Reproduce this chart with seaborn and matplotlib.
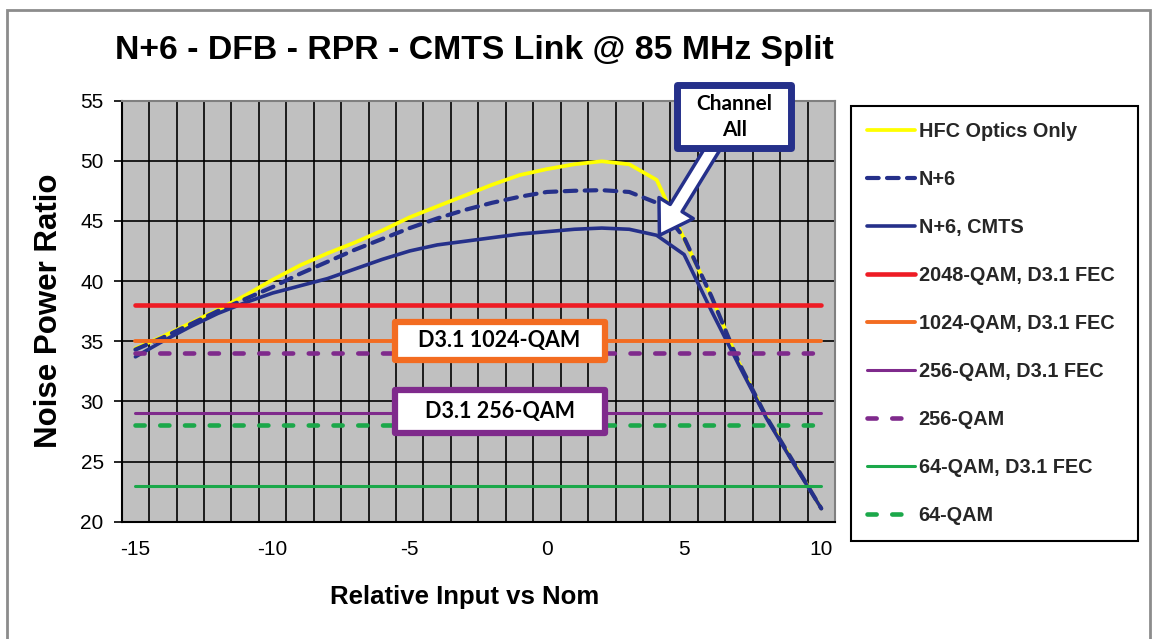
import numpy as np
import pandas as pd
import matplotlib
matplotlib.use("Agg")
import matplotlib.pyplot as plt
from matplotlib.patches import Rectangle, FancyArrowPatch
import seaborn as sns

# Relative input (dB vs nominal) – one category per dB step
rel_input = list(range(-15, 11))

# Noise power ratio curves
hfc_optics = [34.4, 35.4, 36.5, 37.6, 38.8, 40.1, 41.3, 42.3, 43.2, 44.2, 45.3, 46.2, 47.1,
              48.0, 48.8, 49.3, 49.7, 49.95, 49.7, 48.4, 43.5, 38.7, 33.2, 28.7, 24.9, 21.1]
n_plus_6 = [34.3, 35.3, 36.4, 37.5, 38.5, 39.5, 40.6, 41.6, 42.6, 43.5, 44.4, 45.2, 45.9,
            46.5, 47.0, 47.4, 47.5, 47.55, 47.4, 46.5, 43.6, 38.7, 33.2, 28.7, 24.9, 21.1]
n_plus_6_cmts = [33.7, 35.0, 36.2, 37.3, 38.2, 39.0, 39.6, 40.2, 41.0, 41.8, 42.5, 43.0, 43.3,
                 43.6, 43.9, 44.1, 44.3, 44.4, 44.3, 43.8, 42.2, 37.5, 33.0, 28.6, 24.8, 21.1]

# Modulation thresholds (NPR required)
thr_2048_fec = 38
thr_1024_fec = 35
thr_256_fec = 29
thr_256 = 34
thr_64_fec = 23
thr_64 = 28

title = "N+6 - DFB - RPR - CMTS Link @ 85 MHz Split"
x_label = "Relative Input vs Nom"
y_label = "Noise Power Ratio"
x_tick_values = [-15, -10, -5, 0, 5, 10]
y_tick_values = [20, 25, 30, 35, 40, 45, 50, 55]

YELLOW = "#FFFF00"
NAVY = "#25308A"
RED = "#EE1C25"
ORANGE = "#F36C21"
PURPLE = "#7F2A8C"
GREEN = "#1BA84A"

sns.set_theme(style="white")
plt.rcParams["font.family"] = ["Liberation Sans", "DejaVu Sans"]
plt.rcParams["axes.unicode_minus"] = False

W, H = 1156, 639
fig = plt.figure(figsize=(W / 100, H / 100), dpi=100)
left, right, top, bottom = 121.7, 835.0, 100.5, 521.7
ax = fig.add_axes([left / W, 1 - bottom / H, (right - left) / W, (bottom - top) / H])
ax.set_facecolor("#C0C0C0")

dash_long = (0, (2.8, 2.0))
dash_thr = (0, (2.0, 3.4))

curves = [
    ("HFC Optics Only", hfc_optics, YELLOW, 2.7, "-"),
    ("N+6", n_plus_6, NAVY, 3.0, dash_long),
    ("N+6, CMTS", n_plus_6_cmts, NAVY, 2.6, "-"),
]
for name, vals, col, lw, ls in curves:
    sns.lineplot(x=rel_input, y=vals, ax=ax, color=col, linewidth=lw, linestyle=ls,
                 label=name, zorder=3, dash_capstyle="round", solid_capstyle="round")

thresholds = [
    ("2048-QAM, D3.1 FEC", thr_2048_fec, RED, 3.3, "-"),
    ("1024-QAM, D3.1 FEC", thr_1024_fec, ORANGE, 2.8, "-"),
    ("256-QAM, D3.1 FEC", thr_256_fec, PURPLE, 2.2, "-"),
    ("256-QAM", thr_256, PURPLE, 3.3, dash_thr),
    ("64-QAM, D3.1 FEC", thr_64_fec, GREEN, 2.2, "-"),
    ("64-QAM", thr_64, GREEN, 3.3, dash_thr),
]
for name, level, col, lw, ls in thresholds:
    sns.lineplot(x=rel_input, y=[level] * len(rel_input), ax=ax, color=col, linewidth=lw,
                 linestyle=ls, label=name, zorder=4, dash_capstyle="round",
                 solid_capstyle="round")

# Axes: category-style x axis (ticks/grid between categories)
ax.set_xlim(rel_input[0] - 0.5, rel_input[-1] + 0.5)
ax.set_ylim(y_tick_values[0], y_tick_values[-1])
ax.set_xticks(x_tick_values)
ax.set_xticks(np.arange(rel_input[0] - 0.5, rel_input[-1] + 1, 1), minor=True)
ax.set_yticks(y_tick_values)
ax.set_axisbelow(True)
ax.grid(which="minor", axis="x", color="black", linewidth=1.2)
ax.grid(which="major", axis="y", color="black", linewidth=1.2)
ax.grid(which="major", axis="x", visible=False)
ax.tick_params(axis="x", which="major", length=0, pad=13, labelsize=15, colors="black")
ax.tick_params(axis="x", which="minor", length=6, width=1.2, direction="out", color="black")
ax.tick_params(axis="y", which="major", length=6, width=1.2, direction="out", pad=7,
               labelsize=15, colors="black", left=True)
for s in ["top", "right"]:
    ax.spines[s].set_color("#808080")
    ax.spines[s].set_linewidth(1.5)
for s in ["left", "bottom"]:
    ax.spines[s].set_color("black")
    ax.spines[s].set_linewidth(1.5)

ax.set_xlabel(x_label, fontsize=18.5, fontweight="bold", color="black")
ax.set_ylabel(y_label, fontsize=22.5, fontweight="bold", color="black")
ax.xaxis.set_label_coords((465 - left) / (right - left), (bottom - 585) / (bottom - top))
ax.yaxis.set_label_coords((64 - left) / (right - left), 0.5)

fig.text(115 / W, 1 - 50 / H, title, fontsize=24.3, fontweight="bold", ha="left",
         va="center", color="black")

# Threshold call-out boxes
def label_box(x0, x1, y0, y1, text, edge):
    ax.add_patch(Rectangle((x0, y0), x1 - x0, y1 - y0, facecolor="white", edgecolor=edge,
                           linewidth=4.5, joinstyle="round", zorder=8, clip_on=False))
    ax.text((x0 + x1) / 2, (y0 + y1) / 2, text, ha="center", va="center",
            fontfamily=["Lato", "DejaVu Sans"], fontweight="bold", fontsize=15.5,
            color="black", zorder=9)

label_box(-5.55, 2.10, 33.45, 36.6, "D3.1 1024-QAM", ORANGE)
label_box(-5.55, 2.10, 27.35, 30.95, "D3.1 256-QAM", PURPLE)

# "Channel All" call-out pointing at the CMTS curve
ax.add_patch(Rectangle((4.75, 51.05), 8.9 - 4.75, 56.25 - 51.05, facecolor="white",
                       edgecolor=NAVY, linewidth=5, joinstyle="round", zorder=12,
                       clip_on=False))
ax.text((4.75 + 8.9) / 2, (51.05 + 56.25) / 2, "Channel\nAll", ha="center", va="center",
        fontfamily=["Lato", "DejaVu Sans"], fontweight="bold", fontsize=15,
        linespacing=1.35, color="black", zorder=13, clip_on=False)
tip_x = 4
arrow = FancyArrowPatch((6.2, 51.6), (tip_x + 0.1, n_plus_6_cmts[rel_input.index(tip_x)]),
                        arrowstyle="simple,head_length=2.3,head_width=2.9,tail_width=1.0",
                        mutation_scale=10, facecolor="white", edgecolor=NAVY,
                        linewidth=2.5, zorder=11, clip_on=False, shrinkA=0, shrinkB=0)
ax.add_patch(arrow)

# Legend in the fixed series order
handles, labels = ax.get_legend_handles_labels()
order = [c[0] for c in curves] + [t[0] for t in thresholds]
hmap = dict(zip(labels, handles))
leg = ax.legend([hmap[k] for k in order], order, loc="upper left",
                bbox_to_anchor=(851 / W, 1 - 537 / H, (1138 - 851) / W, (537 - 106) / H),
                bbox_transform=fig.transFigure, mode="expand", frameon=True,
                fancybox=False, edgecolor="black", framealpha=1, borderpad=0.8,
                labelspacing=1.46, handlelength=2.4, handletextpad=0.2, borderaxespad=0,
                prop={"weight": "bold", "size": 14.3})
leg.get_frame().set_linewidth(1.5)

# Outer chart border
fig.patches.append(Rectangle((7 / W, -0.05), (1150 - 7) / W, 1.05 - 10 / H,
                             transform=fig.transFigure, fill=False, edgecolor="#8C8C8C",
                             linewidth=2))

fig.savefig("out.png", dpi=100)
